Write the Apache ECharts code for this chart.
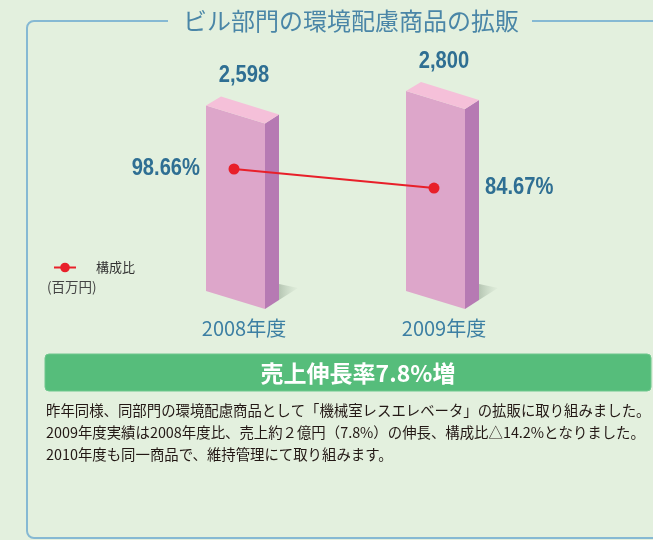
<!DOCTYPE html>
<html>
<head>
<meta charset="utf-8">
<script src="https://cdn.jsdelivr.net/npm/echarts@6/dist/echarts.min.js"></script>
<style>
html,body{margin:0;padding:0;background:#e3f0de;}
#chart{width:653px;height:540px;}
</style>
</head>
<body>
<div id="chart"></div>
<script>
const categories = ['2008年度', '2009年度'];
const sales = [2598, 2800];          // 百万円
const ratio = [98.66, 84.67];        // 構成比 %
const salesLabels = ['2,598', '2,800'];
const ratioLabels = ['98.66%', '84.67%'];
const titleText = 'ビル部門の環境配慮商品の拡販';
const bannerText = '売上伸長率7.8%増';
const bodyLines = [
  '昨年同様、同部門の環境配慮商品として「機械室レスエレベータ」の拡販に取り組みました。',
  '2009年度実績は2008年度比、売上約２億円（7.8%）の伸長、構成比△14.2%となりました。',
  '2010年度も同一商品で、維持管理にて取り組みます。'
];

const BG = '#e3f0de';
const NUM_COLOR = '#2f6f93';
const NUM_FONT = '"Liberation Sans",Arial,sans-serif';
const JP_FONT = '"Noto Sans CJK JP","Noto Sans",sans-serif';

const chart = echarts.init(document.getElementById('chart'), null, {renderer: 'canvas'});

function renderBar(params, api) {
  const idx = api.value(0);
  const val = api.value(1);
  const top = api.coord([idx, val]);
  const base = api.coord([idx, 0]);
  const c = top[0], t = top[1], b = base[1];
  const L = c - 28, R = c + 31, D = c + 45;
  return {
    type: 'group',
    children: [
      { type: 'polygon', shape: {points: [[R, b - 10], [c + 64, b - 3], [D, b + 9]]},
        style: {fill: new echarts.graphic.LinearGradient(0, 0, 1, 0, [
          {offset: 0, color: 'rgba(90,110,90,0.7)'}, {offset: 1, color: 'rgba(160,180,160,0.05)'}])} },
      { type: 'polygon', shape: {points: [[L, t], [R, t + 18], [R, b + 18], [L, b]]},
        style: {fill: '#dda6ca'} },
      { type: 'polygon', shape: {points: [[R, t + 18], [D, t + 9], [D, b + 9], [R, b + 18]]},
        style: {fill: '#b67ab3'} },
      { type: 'polygon', shape: {points: [[L, t], [c - 13, t - 9], [D, t + 9], [R, t + 18]]},
        style: {fill: '#f5c0d9'} },
      { type: 'text', x: c + 10, y: t - 30, scaleX: 0.84,
        style: {text: salesLabels[params.dataIndex], fill: NUM_COLOR, font: 'bold 24px ' + NUM_FONT,
          align: 'center', verticalAlign: 'middle'} }
    ]
  };
}

function renderRatioLabel(params, api) {
  const i = params.dataIndex;
  const p = api.coord([api.value(0), api.value(1)]);
  const left = i === 0;
  return {
    type: 'text', x: left ? p[0] - 34 : p[0] + 51, y: p[1] - 1, scaleX: 0.84,
    style: {text: ratioLabels[i], fill: NUM_COLOR, font: 'bold 24px ' + NUM_FONT,
      align: left ? 'right' : 'left', verticalAlign: 'middle'}
  };
}

const graphics = [
  { type: 'rect', z: 0, shape: {x: 27, y: 21, width: 700, height: 517, r: 7},
    style: {fill: 'none', stroke: '#86b9d3', lineWidth: 2} },
  { type: 'rect', z: 1, shape: {x: 168, y: 8, width: 364, height: 28},
    style: {fill: BG} },
  { type: 'text', z: 2, x: 351, y: 21,
    style: {text: titleText, fill: '#4a86a7', font: '24px ' + JP_FONT, align: 'center', verticalAlign: 'middle'} },
  { type: 'text', z: 2, x: 47, y: 287,
    style: {text: '(百万円)', fill: '#444', font: '13.5px ' + JP_FONT, align: 'left', verticalAlign: 'middle'} },
  { type: 'rect', z: 1, shape: {x: 45, y: 354, width: 606, height: 37, r: 4},
    style: {fill: '#56bd7b', stroke: '#6fc78e', lineWidth: 1} },
  { type: 'text', z: 2, x: 358, y: 373,
    style: {text: bannerText, fill: '#fff', font: 'bold 23px ' + JP_FONT, align: 'center', verticalAlign: 'middle'} }
];
bodyLines.forEach((line, i) => {
  graphics.push({ type: 'text', z: 2, x: 46, y: 411 + i * 22,
    style: {text: line, fill: '#231815', font: '14.4px ' + JP_FONT, align: 'left', verticalAlign: 'middle'} });
});

chart.setOption({
  backgroundColor: BG,
  animation: false,
  grid: {left: 134, width: 400, top: 91, bottom: 249, containLabel: false},
  legend: {
    data: ['構成比'], left: 48, top: 256, itemWidth: 22, itemHeight: 12,
    textStyle: {fontSize: 13, color: '#333', fontFamily: JP_FONT, padding: [0, 0, 0, 15]}
  },
  xAxis: {
    type: 'category', data: categories,
    axisLine: {show: false}, axisTick: {show: false}, splitLine: {show: false},
    axisLabel: {margin: 27, fontSize: 20, color: '#3c7fa3', fontFamily: JP_FONT, padding: [0, 0, 0, 20]}
  },
  yAxis: [
    {type: 'value', min: 0, max: 2800, show: false, splitLine: {show: false}},
    {type: 'value', min: 9, max: 156, show: false, splitLine: {show: false}}
  ],
  series: [
    {
      name: '売上', type: 'custom', yAxisIndex: 0, z: 2,
      renderItem: renderBar,
      data: sales.map((v, i) => [i, v])
    },
    {
      name: '構成比', type: 'line', yAxisIndex: 1, z: 5,
      data: ratio,
      symbol: 'circle', symbolSize: 11,
      lineStyle: {color: '#e8202a', width: 2},
      itemStyle: {color: '#e8202a'}
    },
    {
      name: '構成比ラベル', type: 'custom', yAxisIndex: 1, z: 6,
      renderItem: renderRatioLabel,
      data: ratio.map((v, i) => [i, v])
    }
  ],
  graphic: graphics
});
</script>
</body>
</html>
